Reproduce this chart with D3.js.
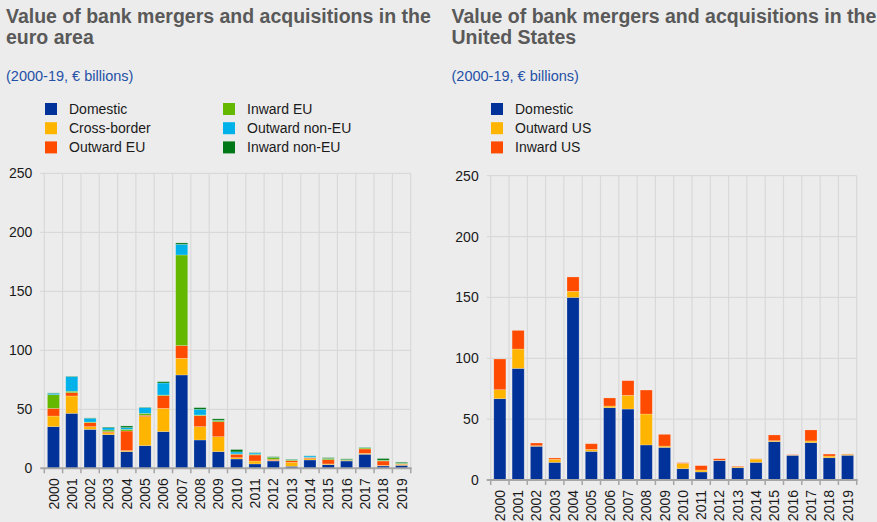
<!DOCTYPE html>
<meta charset="utf-8">
<style>
	body { margin: 0; background: #ececec; }
	svg { display: block; font-family: "Liberation Sans", Arial, sans-serif; }
	.title { font-size: 19.5px; font-weight: bold; fill: #595959; }
	.sub { font-size: 14.5px; fill: #2451a6; }
	.leg { font-size: 14px; fill: #1a1a1a; }
	.axis text { font-size: 14px; fill: #1a1a1a; }
</style>
<script src="https://d3js.org/d3.v7.min.js"></script>
<svg id="chart" width="877" height="522"></svg>
<script>

	var years = ["2000","2001","2002","2003","2004","2005","2006","2007","2008","2009",
		"2010","2011","2012","2013","2014","2015","2016","2017","2018","2019"];
	var yTicks = [0, 50, 100, 150, 200, 250];

	// euro area, € billions
	var euDomestic     = [35.3, 46.6, 33.0, 28.5, 14.1, 19.2, 31.1, 79.1, 24.0, 14.1, 7.9, 3.7, 6.2, 1.7, 7.1, 3.1, 6.2, 11.9, 2.0, 2.5];
	var euCrossBorder  = [9.0, 14.7, 2.3, 1.7, 0.9, 24.6, 19.7, 14.1, 11.3, 12.7, 1.1, 2.5, 0.5, 3.4, 1.1, 0.6, 0.2, 0.8, 0.5, 0.9];
	var euOutwardEU    = [6.5, 2.8, 3.4, 0.9, 16.6, 1.1, 10.8, 10.8, 9.3, 12.7, 2.9, 5.1, 0.9, 1.4, 0.8, 3.6, 0.3, 3.7, 3.7, 0.3];
	var euInwardEU     = [11.6, 1.2, 0.5, 1.4, 1.4, 1.7, 0.5, 76.8, 0.6, 0.9, 0.3, 0.6, 1.4, 0.6, 0.3, 0.9, 0.6, 0.8, 0.6, 0.5];
	var euOutwardNonEU = [1.2, 12.4, 3.2, 2.0, 1.5, 4.8, 10.2, 9.0, 4.8, 0.3, 1.7, 1.1, 0.2, 0.3, 1.2, 0.2, 0.1, 0.3, 0.1, 0.1];
	var euInwardNonEU  = [0.3, 0.3, 0.3, 0.5, 1.4, 0.3, 1.1, 1.2, 1.4, 1.2, 2.0, 0.3, 0.6, 0.3, 0.1, 0.6, 0.6, 0.3, 1.4, 0.8];

	// United States, € billions
	var usDomestic  = [66.8, 91.7, 27.7, 14.5, 150.0, 23.5, 59.4, 58.3, 28.8, 26.8, 9.3, 6.6, 15.9, 10.1, 14.5, 31.5, 20.3, 30.7, 18.3, 20.3];
	var usOutwardUS = [7.4, 15.9, 0.5, 2.5, 5.0, 1.7, 1.4, 11.3, 25.4, 1.1, 4.4, 1.6, 0.3, 0.8, 2.7, 0.8, 0.2, 1.4, 1.4, 0.8];
	var usInwardUS  = [25.2, 15.3, 2.2, 1.1, 11.8, 4.6, 6.6, 12.0, 19.7, 9.6, 0.5, 3.6, 1.3, 0.5, 0.2, 4.7, 0.3, 9.0, 1.6, 0.3];

	var euSeries = [
		{name: "Domestic", values: euDomestic, color: "#003299"},
		{name: "Cross-border", values: euCrossBorder, color: "#ffb400"},
		{name: "Outward EU", values: euOutwardEU, color: "#ff4b00"},
		{name: "Inward EU", values: euInwardEU, color: "#65b800"},
		{name: "Outward non-EU", values: euOutwardNonEU, color: "#00b1ea"},
		{name: "Inward non-EU", values: euInwardNonEU, color: "#007816"}
	];
	var usSeries = [
		{name: "Domestic", values: usDomestic, color: "#003299"},
		{name: "Outward US", values: usOutwardUS, color: "#ffb400"},
		{name: "Inward US", values: usInwardUS, color: "#ff4b00"}
	];

	var svg = d3.select("#chart");

	function drawChart(opt) {
		var g = svg.append("g");

		// titles
		opt.title.forEach(function(t, i) {
			g.append("text").attr("class", "title")
				.attr("x", opt.textX).attr("y", 23 + i * 21).text(t);
		});
		g.append("text").attr("class", "sub")
			.attr("x", opt.textX).attr("y", 81).text("(2000-19, € billions)");

		// legend
		var leg = g.selectAll(".legItem").data(opt.series).enter().append("g")
			.attr("transform", function(d, i) {
				var col = Math.floor(i / 3), row = i % 3;
				return "translate(" + (opt.legX + col * 178) + "," + (103 + row * 19.2) + ")";
			});
		leg.append("rect").attr("width", 12).attr("height", 12)
			.attr("fill", function(d) { return d.color; });
		leg.append("text").attr("class", "leg")
			.attr("x", 24).attr("y", 11).text(function(d) { return d.name; });

		var x = d3.scaleBand().domain(years).range(opt.xRange).paddingInner(0.34).paddingOuter(0.17);
		var y = d3.scaleLinear().domain([0, 250]).range(opt.yRange);

		// grid
		g.selectAll(".hgrid").data(yTicks).enter().append("line")
			.attr("x1", opt.xRange[0] - 4).attr("x2", opt.xRange[1])
			.attr("y1", function(d) { return y(d); }).attr("y2", function(d) { return y(d); })
			.attr("stroke", "#d9d9d9").attr("stroke-width", 1.2);
		var bounds = d3.range(years.length + 1).map(function(i) {
			return opt.xRange[0] + i * (opt.xRange[1] - opt.xRange[0]) / years.length;
		});
		g.selectAll(".vgrid").data(bounds).enter().append("line")
			.attr("x1", function(d) { return d; }).attr("x2", function(d) { return d; })
			.attr("y1", y(250)).attr("y2", y(0))
			.attr("stroke", "#d9d9d9").attr("stroke-width", 1.2);

		// y labels
		g.append("g").attr("class", "axis").selectAll("text").data(yTicks).enter().append("text")
			.attr("x", opt.xRange[0] - 12).attr("y", function(d) { return y(d); })
			.attr("dy", "0.36em").attr("text-anchor", "end")
			.text(function(d) { return d; });

		// stacked bars
		var table = years.map(function(yr, i) {
			var row = {year: yr};
			opt.series.forEach(function(s) { row[s.name] = s.values[i]; });
			return row;
		});
		var stack = d3.stack().keys(opt.series.map(function(s) { return s.name; }))(table);
		g.selectAll(".layer").data(stack).enter().append("g")
			.attr("fill", function(d, i) { return opt.series[i].color; })
			.selectAll("rect").data(function(d) { return d; }).enter().append("rect")
			.attr("x", function(d) { return x(d.data.year); })
			.attr("width", x.bandwidth())
			.attr("y", function(d) { return y(d[1]); })
			.attr("height", function(d) { return y(d[0]) - y(d[1]); })
			.attr("stroke", "rgba(255,255,255,0.3)").attr("stroke-width", 0.7);

		// x axis
		g.append("line").attr("x1", opt.xRange[0] - 4).attr("x2", opt.xRange[1] + 1)
			.attr("y1", y(0)).attr("y2", y(0))
			.attr("stroke", "#a6a6a6").attr("stroke-width", 2);
		g.selectAll(".tick").data(bounds).enter().append("line")
			.attr("x1", function(d) { return d; }).attr("x2", function(d) { return d; })
			.attr("y1", y(0)).attr("y2", y(0) + 5)
			.attr("stroke", "#a6a6a6").attr("stroke-width", 1.5);
		g.append("g").attr("class", "axis").selectAll("text").data(years).enter().append("text")
			.attr("transform", function(d) {
				return "translate(" + (x(d) + x.bandwidth() / 2) + "," + (y(0) + 10) + ") rotate(-90)";
			})
			.attr("text-anchor", "end").attr("dy", "0.36em")
			.text(function(d) { return d; });
	}

	drawChart({
		title: ["Value of bank mergers and acquisitions in the", "euro area"],
		textX: 6, legX: 45,
		series: euSeries,
		xRange: [44.3, 410.7], yRange: [468.3, 173.3]
	});
	drawChart({
		title: ["Value of bank mergers and acquisitions in the", "United States"],
		textX: 451.5, legX: 491,
		series: usSeries,
		xRange: [490.7, 856.7], yRange: [480, 175.7]
	});

</script>
